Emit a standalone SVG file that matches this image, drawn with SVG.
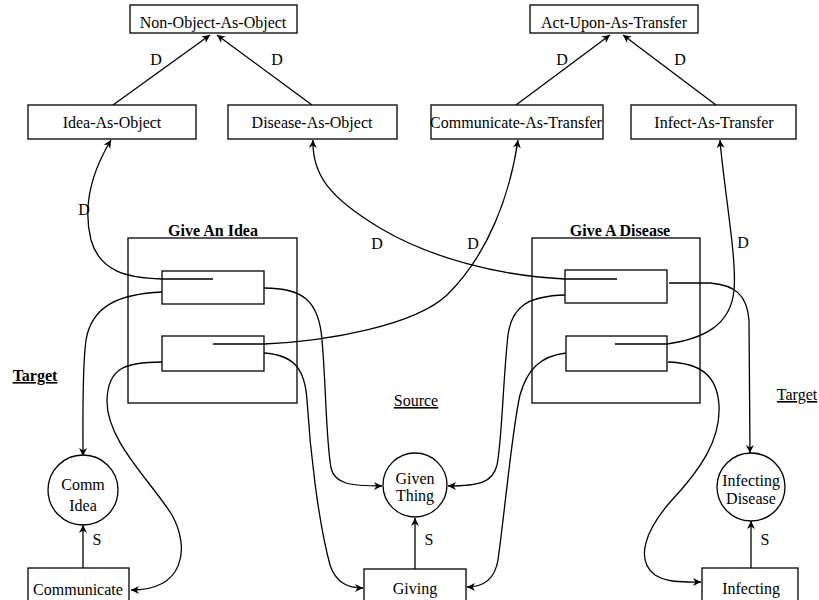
<svg xmlns="http://www.w3.org/2000/svg" width="819" height="600" viewBox="0 0 819 600">
<defs>
<style>
.box{fill:#fff;stroke:#000;stroke-width:1.3}
.cont{fill:none;stroke:#000;stroke-width:1.3}
.t{font-family:"Liberation Serif","Times New Roman",serif;font-size:16px;fill:#000;text-anchor:middle}
.b{font-weight:bold}
.u{text-decoration:underline}
.c{fill:none;stroke:#000;stroke-width:1.3}
</style>
<marker id="ah" viewBox="0 0 10 10" refX="10" refY="5" markerWidth="9" markerHeight="8" orient="auto" markerUnits="userSpaceOnUse">
<path d="M0,0 L10,5 L0,10 L3,5 z" fill="#000"/>
</marker>
</defs>
<rect width="819" height="600" fill="#fff"/>

<g id="connectors">
<line class="c" x1="113" y1="105" x2="210" y2="35" marker-end="url(#ah)"/>
<line class="c" x1="312" y1="105" x2="217" y2="35" marker-end="url(#ah)"/>
<line class="c" x1="516" y1="105" x2="610" y2="35" marker-end="url(#ah)"/>
<line class="c" x1="716" y1="105" x2="623" y2="35" marker-end="url(#ah)"/>
<!-- Give An Idea top -> Idea-As-Object -->
<path class="c" d="M213,279 L162,279 C128,278 100,272 91,240 C84,212 88,178 111,140" marker-end="url(#ah)"/>
<!-- Give An Idea bottom -> Communicate-As-Transfer -->
<path class="c" d="M213,344 L264,344 C330,341 415,325 447,295 C488,255 510,195 518,140" marker-end="url(#ah)"/>
<!-- Give A Disease top -> Disease-As-Object -->
<path class="c" d="M617,279 L565,279 C500,276 430,258 380,228 C330,198 312,175 313,140" marker-end="url(#ah)"/>
<!-- Give A Disease bottom -> Infect-As-Transfer -->
<path class="c" d="M615,344 L667,344 C702,339 731,326 734,290 C737,258 724,190 720,140" marker-end="url(#ah)"/>
<!-- Give An Idea top right -> Given Thing -->
<path class="c" d="M264,288 C302,288 319,300 322,340 C326,385 326,440 331,468 C335,484 350,486 382,486" marker-end="url(#ah)"/>
<!-- Give An Idea top left -> Comm Idea -->
<path class="c" d="M162,292 C120,294 92,305 86,340 C82,370 83,420 83,456" marker-end="url(#ah)"/>
<!-- Give An Idea bottom left -> Communicate -->
<path class="c" d="M162,362 C125,362 108,368 107,400 C106,440 150,480 172,515 C190,548 185,590 131,590" marker-end="url(#ah)"/>
<!-- Give An Idea bottom right -> Giving -->
<path class="c" d="M264,353 C295,355 305,370 307,400 C310,450 318,520 330,565 C336,583 348,588 363,588" marker-end="url(#ah)"/>
<!-- Give A Disease top left -> Given Thing -->
<path class="c" d="M565,295 C530,296 512,305 508,335 C503,380 502,440 497,465 C493,482 480,486 448,486" marker-end="url(#ah)"/>
<!-- Give A Disease bottom left -> Giving -->
<path class="c" d="M566,353 C540,356 527,370 520,395 C512,430 505,510 498,560 C495,578 485,587 467,587" marker-end="url(#ah)"/>
<!-- Give A Disease top right -> Infecting Disease -->
<path class="c" d="M669,283 L710,283 C735,285 747,295 749,320 L750,453" marker-end="url(#ah)"/>
<!-- Give A Disease bottom right -> Infecting -->
<path class="c" d="M668,362 C700,363 717,375 719,405 C721,440 700,470 672,500 C645,530 635,560 655,575 C668,583 685,582 701,582" marker-end="url(#ah)"/>
<!-- S links -->
<line class="c" x1="83" y1="568" x2="83" y2="525" marker-end="url(#ah)"/>
<line class="c" x1="415" y1="569" x2="415" y2="518" marker-end="url(#ah)"/>
<line class="c" x1="751" y1="568" x2="751" y2="521" marker-end="url(#ah)"/>
<!-- labels -->
<text class="t" x="156" y="65">D</text>
<text class="t" x="277" y="65">D</text>
<text class="t" x="562" y="65">D</text>
<text class="t" x="680" y="65">D</text>
<text class="t" x="84" y="215">D</text>
<text class="t" x="377" y="249">D</text>
<text class="t" x="473" y="249">D</text>
<text class="t" x="743" y="248">D</text>
<text class="t" x="97" y="545">S</text>
<text class="t" x="429" y="545">S</text>
<text class="t" x="765" y="545">S</text>
</g>

<g id="non-object-as-object"><rect class="box" x="130" y="5" width="167" height="28"/><text class="t" x="213" y="28">Non-Object-As-Object</text></g>
<g id="act-upon-as-transfer"><rect class="box" x="530" y="5" width="168" height="28"/><text class="t" x="614" y="28">Act-Upon-As-Transfer</text></g>
<g id="idea-as-object"><rect class="box" x="28" y="105" width="168" height="34"/><text class="t" x="112" y="128">Idea-As-Object</text></g>
<g id="disease-as-object"><rect class="box" x="228" y="105" width="169" height="34"/><text class="t" x="312" y="128">Disease-As-Object</text></g>
<g id="communicate-as-transfer"><rect class="box" x="431" y="105" width="172" height="34"/><text class="t" x="516" y="128">Communicate-As-Transfer</text></g>
<g id="infect-as-transfer"><rect class="box" x="631" y="105" width="165" height="34"/><text class="t" x="714" y="128">Infect-As-Transfer</text></g>

<g id="give-an-idea">
<rect class="cont" x="128" y="238" width="169" height="165"/>
<text class="t b" x="213" y="236">Give An Idea</text>
<rect class="cont" x="162" y="271" width="102" height="33"/>
<rect class="cont" x="162" y="336" width="102" height="35"/>
</g>
<g id="give-a-disease">
<rect class="cont" x="532" y="238" width="168" height="165"/>
<text class="t b" x="620" y="236">Give A Disease</text>
<rect class="cont" x="565" y="270" width="102" height="33"/>
<rect class="cont" x="566" y="336" width="101" height="35"/>
</g>

<g id="comm-idea"><circle class="box" cx="83" cy="490" r="35"/><text class="t" x="83" y="490">Comm</text><text class="t" x="83" y="511">Idea</text></g>
<g id="given-thing"><circle class="box" cx="415" cy="485" r="32"/><text class="t" x="415" y="484">Given</text><text class="t" x="415" y="501">Thing</text></g>
<g id="infecting-disease"><circle class="box" cx="751" cy="487" r="34"/><text class="t" x="751" y="486">Infecting</text><text class="t" x="751" y="504">Disease</text></g>

<g id="communicate"><rect class="box" x="28" y="568" width="101" height="45"/><text class="t" x="78" y="595">Communicate</text></g>
<g id="giving"><rect class="box" x="364" y="569" width="102" height="45"/><text class="t" x="415" y="594">Giving</text></g>
<g id="infecting"><rect class="box" x="702" y="568" width="96" height="45"/><text class="t" x="751" y="594">Infecting</text></g>

<g id="role-labels">
<text class="t b u" x="35" y="381">Target</text>
<text class="t u" x="416" y="406">Source</text>
<text class="t u" x="797" y="400">Target</text>
</g>
</svg>
